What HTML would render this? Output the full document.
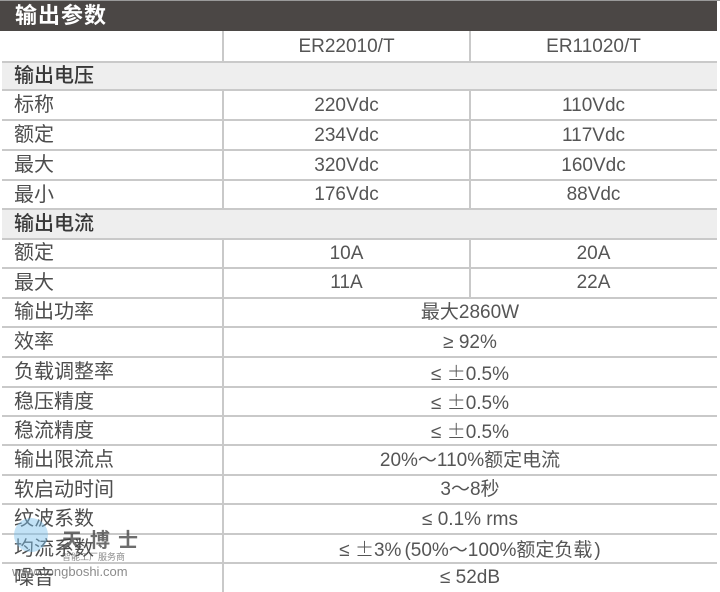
<!DOCTYPE html>
<html>
<head>
<meta charset="utf-8">
<style>
html,body{margin:0;padding:0;background:#fff;}
body{width:720px;height:592px;position:relative;overflow:hidden;font-family:"Liberation Sans","Noto Sans CJK SC",sans-serif;}
.a{position:absolute;}
.h{position:absolute;left:2px;width:715px;height:2px;background:#c9c9c9;}
.v{position:absolute;width:2px;background:#c9c9c9;}
.band{position:absolute;left:2px;width:715px;background:#eeeeee;}
.t{position:absolute;white-space:nowrap;color:#4d4d4d;font-size:20px;font-family:"Liberation Sans","Noto Sans CJK SC",sans-serif;}
.lab{left:14px;}
.c1{left:223px;width:247px;text-align:center;font-size:19px;color:#555;}
.c2{left:470px;width:247px;text-align:center;font-size:19px;color:#555;}
.cm{left:223px;width:494px;text-align:center;font-size:19px;color:#555;}
.b{color:#383838;font-weight:500;}
.pm{font-family:"Noto Sans CJK SC",sans-serif;font-weight:300;}
</style>
</head>
<body>
<!-- title bar -->
<div class="a" style="left:0;top:0;width:720px;height:1px;background:#9a9a9a;"></div>
<div class="a" style="left:0;top:1px;width:717px;height:30px;background:#4b4745;"></div>
<div class="t" style="left:15px;top:1px;height:30px;line-height:30px;color:#fff;font-weight:bold;font-size:22px;letter-spacing:1px;">输出参数</div>

<!-- band backgrounds -->
<div class="band" style="top:62px;height:28px;"></div>
<div class="band" style="top:210px;height:28px;"></div>

<!-- horizontal lines -->
<div class="h" style="top:61px"></div>
<div class="h" style="top:89px"></div>
<div class="h" style="top:119px"></div>
<div class="h" style="top:149px"></div>
<div class="h" style="top:179px"></div>
<div class="h" style="top:208px"></div>
<div class="h" style="top:238px"></div>
<div class="h" style="top:267px"></div>
<div class="h" style="top:297px"></div>
<div class="h" style="top:326px"></div>
<div class="h" style="top:356px"></div>
<div class="h" style="top:386px"></div>
<div class="h" style="top:415px"></div>
<div class="h" style="top:444px"></div>
<div class="h" style="top:474px"></div>
<div class="h" style="top:503px"></div>
<div class="h" style="top:533px"></div>
<div class="h" style="top:562px"></div>

<!-- vertical lines -->
<div class="v" style="left:222px;top:31px;height:30px;"></div>
<div class="v" style="left:469px;top:31px;height:30px;"></div>
<div class="v" style="left:222px;top:91px;height:117px;"></div>
<div class="v" style="left:469px;top:91px;height:117px;"></div>
<div class="v" style="left:222px;top:240px;height:352px;"></div>
<div class="v" style="left:469px;top:240px;height:57px;"></div>

<!-- header -->
<div class="t c1" style="top:32px;height:29px;line-height:29px;">ER22010/T</div>
<div class="t c2" style="top:32px;height:29px;line-height:29px;">ER11020/T</div>

<!-- band 1 -->
<div class="t lab b" style="top:62px;height:28px;line-height:28px;">输出电压</div>

<div class="t lab" style="top:91px;height:29px;line-height:29px;">标称</div>
<div class="t c1" style="top:91px;height:29px;line-height:29px;">220Vdc</div>
<div class="t c2" style="top:91px;height:29px;line-height:29px;">110Vdc</div>

<div class="t lab" style="top:121px;height:29px;line-height:29px;">额定</div>
<div class="t c1" style="top:121px;height:29px;line-height:29px;">234Vdc</div>
<div class="t c2" style="top:121px;height:29px;line-height:29px;">117Vdc</div>

<div class="t lab" style="top:151px;height:29px;line-height:29px;">最大</div>
<div class="t c1" style="top:151px;height:29px;line-height:29px;">320Vdc</div>
<div class="t c2" style="top:151px;height:29px;line-height:29px;">160Vdc</div>

<div class="t lab" style="top:181px;height:28px;line-height:28px;">最小</div>
<div class="t c1" style="top:181px;height:28px;line-height:28px;">176Vdc</div>
<div class="t c2" style="top:181px;height:28px;line-height:28px;">88Vdc</div>

<!-- band 2 -->
<div class="t lab b" style="top:210px;height:28px;line-height:28px;">输出电流</div>

<div class="t lab" style="top:239px;height:29px;line-height:29px;">额定</div>
<div class="t c1" style="top:239px;height:29px;line-height:29px;">10A</div>
<div class="t c2" style="top:239px;height:29px;line-height:29px;">20A</div>

<div class="t lab" style="top:269px;height:28px;line-height:28px;">最大</div>
<div class="t c1" style="top:269px;height:28px;line-height:28px;">11A</div>
<div class="t c2" style="top:269px;height:28px;line-height:28px;">22A</div>

<div class="t lab" style="top:298px;height:29px;line-height:29px;">输出功率</div>
<div class="t cm" style="top:298px;height:29px;line-height:29px;">最大2860W</div>

<div class="t lab" style="top:328px;height:29px;line-height:29px;">效率</div>
<div class="t cm" style="top:328px;height:29px;line-height:29px;">≥ 92%</div>

<div class="t lab" style="top:358px;height:29px;line-height:29px;">负载调整率</div>
<div class="t cm" style="top:358px;height:29px;line-height:29px;">≤ <span class="pm">±</span>0.5%</div>

<div class="t lab" style="top:388px;height:28px;line-height:28px;">稳压精度</div>
<div class="t cm" style="top:388px;height:28px;line-height:28px;">≤ <span class="pm">±</span>0.5%</div>

<div class="t lab" style="top:417px;height:28px;line-height:28px;">稳流精度</div>
<div class="t cm" style="top:417px;height:28px;line-height:28px;">≤ <span class="pm">±</span>0.5%</div>

<div class="t lab" style="top:446px;height:29px;line-height:29px;">输出限流点</div>
<div class="t cm" style="top:446px;height:29px;line-height:29px;">20%～110%额定电流</div>

<div class="t lab" style="top:476px;height:28px;line-height:28px;">软启动时间</div>
<div class="t cm" style="top:476px;height:28px;line-height:28px;">3～8秒</div>

<div class="t lab" style="top:505px;height:29px;line-height:29px;">纹波系数</div>
<div class="t cm" style="top:505px;height:29px;line-height:29px;">≤ 0.1% rms</div>

<div class="t lab" style="top:535px;height:28px;line-height:28px;">均流系数</div>
<div class="t cm" style="top:535px;height:28px;line-height:28px;">≤ <span class="pm">±</span>3%<span style="margin-left:3px">(</span>50%～100%额定负载<span style="margin-left:2px">)</span></div>

<div class="t lab" style="top:564px;height:28px;line-height:28px;">噪音</div>
<div class="t cm" style="top:564px;height:28px;line-height:28px;">≤ 52dB</div>

<!-- watermark -->
<div class="a" style="left:14px;top:518px;width:34px;height:34px;border-radius:50%;background:rgba(120,190,235,0.45);"></div>
<div class="t" style="left:62px;top:524px;font-size:20px;color:rgba(60,60,60,0.75);letter-spacing:8px;font-weight:bold;">天博士</div>
<div class="t" style="left:62px;top:550px;font-size:9px;color:rgba(90,90,90,0.7);">智能工厂服务商</div>
<div class="t" style="left:12px;top:564px;font-size:13px;color:rgba(100,100,100,0.75);">www.tongboshi.com</div>
</body>
</html>
